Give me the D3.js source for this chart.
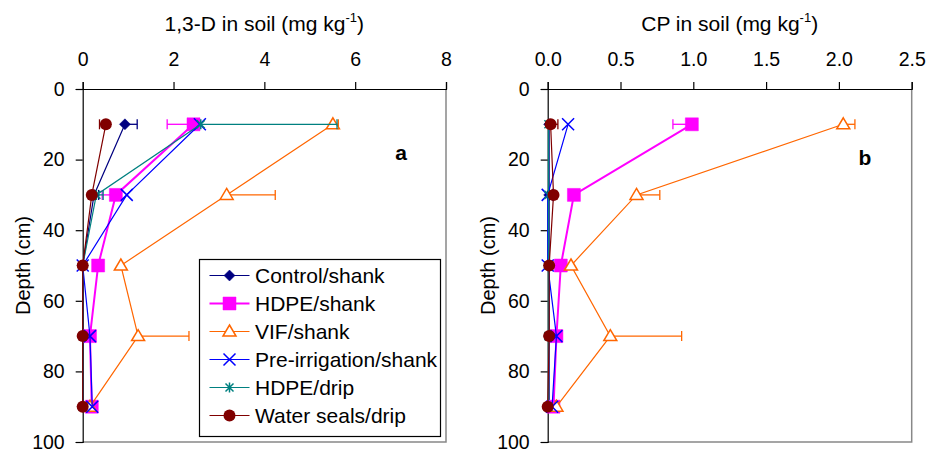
<!DOCTYPE html>
<html>
<head>
<meta charset="utf-8">
<script src="https://cdn.jsdelivr.net/npm/d3@7"></script>
<style>
  body { margin: 0; background: #fff; }
  text { font-family: "Liberation Sans", Arial, sans-serif; fill: #000; }
</style>
</head>
<body>
<div class="chart"></div>
<script>
// sampling depths (cm)
var depths = [10, 30, 50, 70, 90];

var seriesNames = ["Control/shank", "HDPE/shank", "VIF/shank", "Pre-irrigation/shank", "HDPE/drip", "Water seals/drip"];
var seriesColors = ["#000080", "#ff00ff", "#ff6600", "#0000ff", "#008080", "#800000"];
var seriesMarkers = ["diamond", "square", "triangle", "cross", "star", "circle"];

// 1,3-D in soil (mg/kg), one array per treatment
var d13Control   = [0.93, 0.25, 0.0, 0.0, 0.0];
var d13HdpeShank = [2.44, 0.73, 0.34, 0.16, 0.20];
var d13Vif       = [5.51, 3.17, 0.84, 1.22, 0.16];
var d13PreIrr    = [2.58, 0.97, 0.0, 0.16, 0.21];
var d13HdpeDrip  = [2.60, 0.30, 0.0, 0.0, 0.0];
var d13Water     = [0.51, 0.20, 0.0, 0.0, 0.0];
// error bars (+ = to the right, - = to the left)
var d13ErrControl   = [0.27, 0.10, 0, 0, 0];
var d13ErrHdpeShank = [-0.58, -0.30, 0, 0, 0];
var d13ErrVif       = [0.12, 1.07, 0, 1.12, 0];
var d13ErrPreIrr    = [0, 0, 0, 0, 0];
var d13ErrHdpeDrip  = [3.0, 0.15, 0, 0, 0];
var d13ErrWater     = [-0.14, 0, 0, 0, 0];

// CP in soil (mg/kg)
var cpControl   = [0.01, 0.01, 0.01, 0.01, 0.01];
var cpHdpeShank = [0.99, 0.18, 0.09, 0.06, 0.04];
var cpVif       = [2.03, 0.61, 0.16, 0.43, 0.06];
var cpPreIrr    = [0.14, 0.0, 0.0, 0.06, 0.03];
var cpHdpeDrip  = [0.005, 0.005, 0.005, 0.005, 0.005];
var cpWater     = [0.02, 0.04, 0.01, 0.01, 0.0];
var cpErrControl   = [0, 0, 0, 0, 0];
var cpErrHdpeShank = [-0.13, 0, 0, 0, 0];
var cpErrVif       = [0.08, 0.16, 0, 0.49, 0];
var cpErrPreIrr    = [0, 0, 0, 0, 0];
var cpErrHdpeDrip  = [0, 0, 0, 0, 0];
var cpErrWater     = [0.05, 0, 0, 0, 0];

var d13Ticks = [0, 2, 4, 6, 8];
var cpTicks = [0, 0.5, 1.0, 1.5, 2.0, 2.5];
var depthTicks = [0, 20, 40, 60, 80, 100];

var svgWidth = 929, svgHeight = 454;
var svg = d3.select(".chart").append("svg")
  .attr("width", svgWidth)
  .attr("height", svgHeight);

// plot area bounds
var plotTop = 89, plotBottom = 442;
var yScale = d3.scaleLinear().domain([0, 100]).range([plotTop, plotBottom]);

function markerPath(type) {
  if (type == "diamond") return "M0,-5.5L5.5,0L0,5.5L-5.5,0Z";
  if (type == "square") return "M-6.5,-6.5H6.5V6.5H-6.5Z";
  if (type == "triangle") return "M0,-6.5L6.5,4.5L-6.5,4.5Z";
  if (type == "cross") return "M-6,-6L6,6M-6,6L6,-6";
  if (type == "star") return "M-4,-4L4,4M-4,4L4,-4M0,-5V5";
  return null;
}

function drawMarker(g, type, color, x, y) {
  if (type == "circle") {
    g.append("circle").attr("cx", x).attr("cy", y).attr("r", 6).attr("fill", color);
    return;
  }
  var filled = (type == "diamond" || type == "square");
  g.append("path")
    .attr("d", markerPath(type))
    .attr("transform", `translate(${x},${y})`)
    .attr("fill", filled ? color : (type == "triangle" ? "#fff" : "none"))
    .attr("stroke", color)
    .attr("stroke-width", filled ? 0.5 : 1.5);
}

function drawPanel(opts) {
  var xScale = d3.scaleLinear().domain(opts.domain).range(opts.range);
  var g = svg.append("g");

  // gray border right + bottom
  g.append("path")
    .attr("d", `M${opts.range[1]},${plotTop}V${plotBottom}H${opts.range[0]}`)
    .attr("fill", "none").attr("stroke", "#888").attr("stroke-width", 1.5);

  var xAxis = d3.axisTop(xScale).tickValues(opts.ticks).tickSize(7).tickPadding(16)
    .tickFormat(opts.format);
  g.append("g").attr("transform", `translate(0,${plotTop})`).call(xAxis)
    .call(a => a.selectAll("text").attr("font-size", 19.5).attr("font-family", "Liberation Sans, Arial"))
    .call(a => a.selectAll("path,line").attr("stroke", "#000").attr("stroke-width", 1.2));

  var yAxis = d3.axisLeft(yScale).tickValues(depthTicks).tickSize(7).tickPadding(11);
  g.append("g").attr("transform", `translate(${opts.range[0]},0)`).call(yAxis)
    .call(a => a.selectAll("text").attr("font-size", 19.5).attr("font-family", "Liberation Sans, Arial"))
    .call(a => a.selectAll("path,line").attr("stroke", "#000").attr("stroke-width", 1.2));

  // title with superscript
  var t = g.append("text")
    .attr("x", (opts.range[0] + opts.range[1]) / 2)
    .attr("y", 31)
    .attr("text-anchor", "middle")
    .attr("font-size", 21);
  t.append("tspan").text(opts.title + " (mg kg");
  t.append("tspan").attr("font-size", 13).attr("dy", -9).text("-1");
  t.append("tspan").attr("dy", 9).text(")");

  g.append("text")
    .attr("transform", `translate(${opts.range[0] - 53},${(plotTop + plotBottom) / 2}) rotate(-90)`)
    .attr("text-anchor", "middle")
    .attr("font-size", 20)
    .text("Depth (cm)");

  g.append("text")
    .attr("x", opts.letterX).attr("y", opts.letterY)
    .attr("text-anchor", "middle")
    .attr("font-size", 21).attr("font-weight", "bold")
    .text(opts.letter);

  var line = d3.line().x(d => xScale(d.v)).y(d => yScale(d.depth));

  opts.values.forEach(function(vals, i) {
    var color = seriesColors[i];
    var data = vals.map((v, j) => ({ v: v, depth: depths[j], err: opts.errors[i][j] }));
    var sg = g.append("g");

    // error bars
    data.forEach(function(d) {
      if (!d.err) return;
      var x0 = xScale(d.v), x1 = xScale(d.v + d.err), y = yScale(d.depth);
      sg.append("line").attr("x1", x0).attr("x2", x1).attr("y1", y).attr("y2", y)
        .attr("stroke", color).attr("stroke-width", 1.3);
      sg.append("line").attr("x1", x1).attr("x2", x1).attr("y1", y - 5).attr("y2", y + 5)
        .attr("stroke", color).attr("stroke-width", 1.3);
    });

    sg.append("path").datum(data)
      .attr("d", line)
      .attr("fill", "none")
      .attr("stroke", color)
      .attr("stroke-width", i == 1 ? 2 : 1.2);

    data.forEach(function(d) {
      drawMarker(sg, seriesMarkers[i], color, xScale(d.v), yScale(d.depth));
    });
  });
}

drawPanel({
  domain: [0, 8], range: [82.7, 446], ticks: d13Ticks, format: d3.format("d"),
  title: "1,3-D in soil", letter: "a", letterX: 401, letterY: 160,
  values: [d13Control, d13HdpeShank, d13Vif, d13PreIrr, d13HdpeDrip, d13Water],
  errors: [d13ErrControl, d13ErrHdpeShank, d13ErrVif, d13ErrPreIrr, d13ErrHdpeDrip, d13ErrWater]
});

drawPanel({
  domain: [0, 2.5], range: [547.7, 911.7], ticks: cpTicks, format: d3.format(".1f"),
  title: "CP in soil", letter: "b", letterX: 865, letterY: 165,
  values: [cpControl, cpHdpeShank, cpVif, cpPreIrr, cpHdpeDrip, cpWater],
  errors: [cpErrControl, cpErrHdpeShank, cpErrVif, cpErrPreIrr, cpErrHdpeDrip, cpErrWater]
});

// legend
var legend = svg.append("g").attr("transform", "translate(199.5,259.5)");
legend.append("rect")
  .attr("width", 241).attr("height", 177)
  .attr("fill", "#fff").attr("stroke", "#000").attr("stroke-width", 1.2);

seriesNames.forEach(function(name, i) {
  var y = 16 + i * 28;
  legend.append("line").attr("x1", 10).attr("x2", 50).attr("y1", y).attr("y2", y)
    .attr("stroke", seriesColors[i]).attr("stroke-width", i == 1 ? 2 : 1.2);
  drawMarker(legend, seriesMarkers[i], seriesColors[i], 30, y);
  legend.append("text")
    .attr("x", 55.5).attr("y", y + 7.5)
    .attr("font-size", 21)
    .text(name);
});
</script>
</body>
</html>
